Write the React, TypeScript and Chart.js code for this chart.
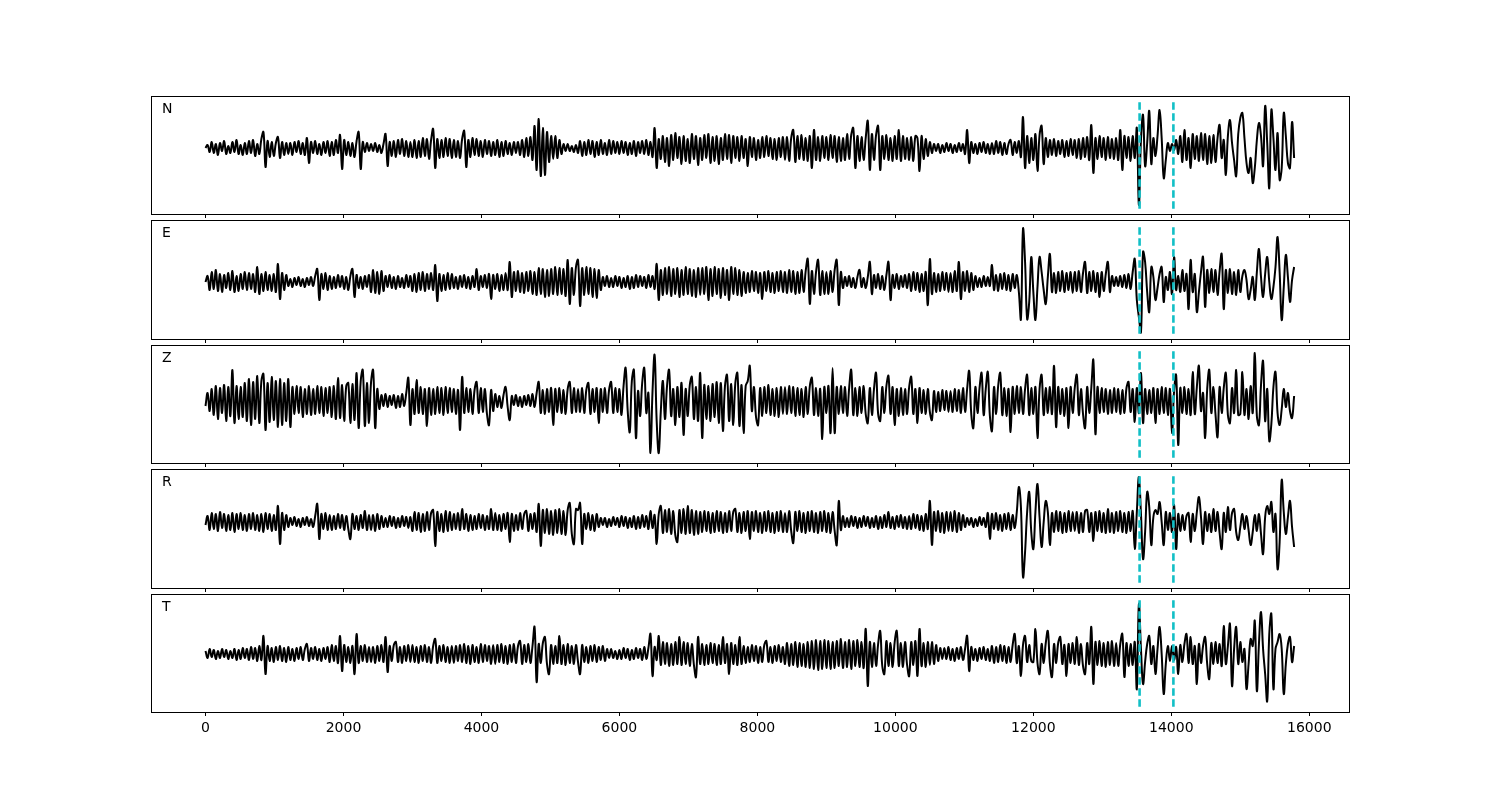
import React, { useEffect, useRef } from "react";
import { Chart, registerables } from "chart.js";

Chart.register(...registerables);

// ---------------- data ----------------
const DT = 30; // sample interval (x units)
const traceNames = ["N", "E", "Z", "R", "T"];
const pickTimes = [13540, 14030];
const xTicks = [0, 2000, 4000, 6000, 8000, 10000, 12000, 14000, 16000];
const xMin = -790;
const xMax = 16590;
const yLimits = [
  [-66, 52],
  [-57, 62],
  [-62, 56],
  [-66, 53],
  [-58, 60],
];

const traceN = [
  0, 3, -4, 6, -5, 4, -7, 5, -3, 7, -6, 2, -5, 6, -4, 8, -6, 3, -7, 5,
  -6, 7, -5, 8, -8, 4, -6, 9, 16, -19, 7, -9, 6, -8, 5, 11, -10, 6, -7, 5,
  -6, 5, -7, 6, -4, 7, -6, 5, -7, 10, -15, 6, -5, 7, -6, 4, -7, 6, -5, 7,
  -8, 6, -7, 8, -5, 13, -21, 8, -7, 6, -8, 5, -9, 7, 16, -21, 6, -4, 5, -3,
  4, -3, 5, -4, 3, -5, 4, 14, -18, 6, -8, 7, -9, 8, -6, 9, -8, 7, -9, 6,
  -9, 8, -10, 7, -9, 10, -8, 9, -11, 8, 19, -20, 9, -10, 8, -9, 10, -8, 9, -10,
  8, -9, 7, -10, 9, 17, -19, 8, -9, 10, -7, 9, -8, 7, -9, 8, -6, 7, -8, 6,
  -7, 8, -9, 6, -8, 7, -6, 5, -7, 6, -5, 6, -7, 8, -9, 10, -8, 11, -12, 22,
  -22, 29, -28, 20, -27, 16, -14, 12, -11, 12, -10, 8, -6, 4, -3, 4, -3, 2, -4, 3,
  -5, 7, -8, 6, -7, 8, -6, 7, -9, 6, -7, 8, -6, 5, -7, 8, -6, 7, -5, 6,
  -6, 7, -5, 6, -7, 5, -6, 7, -8, 6, -5, 7, -6, 8, -7, 6, -9, 20, -20, 9,
  -11, 12, -14, 10, -18, 13, -12, 15, -10, 11, -16, 12, -13, 9, -15, 14, -11, 12, -17, 10,
  -12, 13, -10, 14, -15, 11, -13, 12, -16, 10, -12, 14, -11, 13, -15, 12, -10, 11, -13, 12,
  -10, 9, -18, 11, -9, 10, -12, 8, -10, 11, -9, 12, -8, 10, -11, 9, -12, 10, -9, 11,
  -12, 11, -13, 10, 18, -14, 12, -11, 13, -12, 10, -13, 12, -20, 18, -12, 11, -13, 12, -10,
  11, -12, 13, -10, 12, -14, 11, -13, 10, -12, 14, -11, 13, 20, -20, 12, -13, 11, -12, 10,
  27, -22, 14, -12, 13, 22, -22, 12, -11, 13, -12, 10, -13, 12, -11, 18, -13, 12, -11, 10,
  -12, 11, -13, 12, 10, -23, 12, -11, 9, -8, 6, -5, 4, -3, 4, -5, 3, -4, 5, -3,
  4, -5, 3, -4, 5, -3, 4, -6, 18, -15, 6, -5, 4, -6, 5, -4, 6, -5, 4, -6,
  5, -6, 7, -5, 6, -7, 5, -6, 4, 8, -7, 6, -5, 7, -9, 31, -20, 12, -15, 10,
  -12, 14, -23, 13, 22, -16, 10, -9, 8, -7, 9, -8, 7, -6, 8, -9, 7, -8, 9, -7,
  8, -10, 9, -11, 10, -9, 11, -12, 23, -25, 10, -11, 12, -9, 10, -12, 11, -10, 9, -11,
  10, -12, 18, -22, 12, -10, 11, -13, 12, -10, 20, -57, 8, 33, -18, 5, 37, -16, 10, -8,
  12, 38, 10, -30, -12, 5, -3, 4, -2, 8, -6, 12, -14, 18, -12, 10, -20, 14, -11, 12,
  -13, 15, -12, 14, -16, 12, -15, 13, -14, 10, 23, -10, 8, -27, 12, 28, 5, -12, -28, 14,
  30, 35, 10, -15, -25, -10, -35, -20, 8, 25, 12, -18, 42, 5, -40, 38, 10, -22, 15, -32,
  -20, 35, 12, -15, -20, 26, -10,
];

const traceE = [
  0, 6, -8, 10, -7, 12, -9, 8, -10, 7, -6, 9, -8, 11, -10, 6, -9, 8, -7, 10,
  -8, 9, -7, 8, -10, 15, -12, 8, -9, 10, -8, 7, -9, 8, -10, 18, -17, 9, -8, 7,
  -4, 3, -5, 4, -3, 5, -4, 3, -5, 4, -3, 5, -4, 6, 13, -18, 8, -7, 9, -8,
  6, -7, 5, -6, 7, -5, 6, -7, 5, -8, 6, 13, -15, 7, -6, 5, -7, 6, -5, 7,
  -10, 12, -11, 10, -12, 11, -9, 6, -5, 7, -6, 5, -7, 6, -5, 4, -6, 7, -5, 6,
  -9, 8, -10, 9, -8, 10, -9, 8, -7, 9, -8, 17, -19, 8, -9, 7, -8, 9, -7, 8,
  -6, 5, -7, 6, -5, 7, -6, 5, -7, 6, -5, 13, -8, 6, -5, 7, -6, 8, -17, 7,
  -7, 8, -9, 7, -8, 9, -8, 20, -15, 10, -9, 11, -10, 9, -11, 10, -9, 11, -12, 10,
  -13, 14, -12, 13, -15, 12, -14, 13, -12, 15, -13, 14, -12, 13, -14, 22, -22, 14, -13, 15,
  22, -24, 14, -13, 15, -12, 14, -15, 13, -16, 12, -8, 5, -4, 6, -5, 4, -5, 6, -4,
  5, -6, 4, -5, 6, -7, 5, -6, 7, -5, 6, -4, 5, -6, 7, -5, 6, -7, 18, -18,
  12, -13, 14, -12, 15, -14, 13, -12, 14, -15, 12, -13, 15, -12, 13, -14, 12, -15, 14, -13,
  14, -12, 15, -18, 13, -14, 15, -12, 13, -16, 14, -13, 12, -18, 15, -12, 14, -13, 12, -14,
  10, -11, 9, -10, 11, -9, 10, -11, 9, -17, 10, -9, 11, -10, 9, -11, 10, -9, 11, -10,
  10, -11, 12, -10, 11, -12, 10, -11, 12, -10, 11, 23, -22, 11, -12, 10, 22, -13, 11, -12,
  10, -12, 11, -10, 12, 22, -23, 10, -6, 5, -4, 6, -5, 4, -6, 5, 12, -5, 4, -6,
  5, 20, -12, 7, -6, 8, -7, 6, -8, 7, 20, -18, 7, -6, 8, -7, 6, -5, 7, -6,
  8, -9, 10, -8, 9, -10, 8, -9, 10, -23, 23, -12, 9, -10, 8, -9, 10, -8, 9, -10,
  9, -10, 11, -9, 20, -17, 10, -9, 11, -10, 9, -8, 6, -5, 4, -5, 6, -4, 5, -4,
  17, -8, 7, -9, 8, -7, 9, -8, 7, -9, 8, -6, 7, -10, -37, 53, 20, -37, -20, 25,
  -10, -38, -5, 25, 10, -8, -22, 5, 28, -10, 9, -11, 10, -9, 11, -10, 9, -8, 10, -11,
  10, -9, 11, -10, 9, 20, -11, 10, -9, 11, -10, 9, -15, 10, -9, 8, 20, -10, 6, -4,
  5, -4, 6, -5, 7, -6, 8, -7, 10, 23, -18, -35, -50, 30, 20, -10, -30, 15, 5, -18,
  -6, 8, 15, -20, 5, -8, 10, -12, 25, -8, 6, -10, 12, -9, 8, -27, 22, -10, 8, -30,
  -10, 10, 25, -25, 12, -11, 13, -10, 12, -13, 11, 28, -27, 12, -11, 13, -12, 10, -13, 12,
  -10, 6, 12, 2, -17, -8, 5, -18, 10, 33, 5, -15, 8, 25, 0, -17, -5, 15, 45, 10,
  -38, -5, 27, 5, -20, 2, 15,
];

const traceZ = [
  -5, 8, -10, 12, -14, 15, -18, 13, -12, 16, -20, 14, -15, 31, -22, 15, -18, 14, -16, 18,
  -20, 22, -24, 19, -18, 25, -22, 20, 27, -29, 18, -21, 24, -19, 20, -26, 22, -24, 18, -20,
  22, -26, 14, -13, 15, -12, 14, -16, 12, -13, 15, -14, 12, -13, 15, -12, 14, -15, 13, -12,
  14, -16, 15, -18, 23, -17, 16, -20, 15, 18, -22, 17, -19, 28, -27, 20, 31, -25, 18, -22,
  19, 31, -27, 12, -8, 6, -5, 7, -6, 5, -4, 6, -7, 5, -6, 7, -5, 8, 23, -24,
  12, -13, 21, -12, 14, -13, 12, -25, 13, -14, 12, -13, 14, -12, 13, -14, 14, -12, 13, -11,
  12, -13, 11, -29, 24, -12, 13, -11, 12, -13, 11, 19, -12, 13, -11, 12, -13, -24, 11, -10,
  7, -6, 5, -7, 6, 14, -6, -19, 5, -4, 6, -5, 4, -6, 5, -4, 6, -5, 7, -6,
  8, 19, -12, 11, -13, 12, -11, 13, -24, 12, -11, 13, -12, 11, -13, 12, 19, -12, 13, -11,
  12, -11, 13, -12, 11, 18, -13, 12, -11, 13, -22, 12, -11, 13, -12, 11, 19, -12, 13, -11,
  12, -14, 15, 33, -10, -31, 20, 31, -37, 10, -15, 18, 33, -12, 8, -52, 10, 46, -20, -52,
  -10, 20, -18, 15, 31, -15, 12, -24, 14, -16, 18, -34, 12, -15, 16, 24, -18, 14, -20, 28,
  -37, 16, -18, 15, -20, 17, -16, 19, -22, 18, -30, 15, 26, -20, 17, -24, 18, 28, -25, 16,
  -32, 15, 20, 35, -10, 14, -16, -24, 13, -15, 14, -12, 16, -14, 12, -15, 13, -16, 14, -13,
  14, -13, 15, -12, 14, -15, 13, -14, 12, -16, 14, -13, 15, 23, -14, 13, -15, 12, -38, 14,
  -12, 15, -32, 33, -32, 14, -13, 15, -12, 14, -15, 13, 31, -14, 13, -15, 14, -12, 15, -13,
  -22, 13, -14, 12, 28, -13, -20, 14, -12, 15, 25, -13, 14, -24, 12, -15, 13, -14, 12, -13,
  14, 24, -13, 12, -22, 13, -12, 11, -13, 12, -11, -19, 10, -11, 9, -10, 11, -9, 10, -11,
  10, -11, 12, -10, 11, -12, 13, -11, 12, 30, -13, -27, 14, -12, 13, 28, -14, 12, 29, -15,
  -30, 14, -13, 15, 28, -14, 13, -15, 12, -31, 14, -13, 15, -12, 14, -13, 12, 26, -14, 13,
  -13, 14, -37, 12, 26, -14, 13, -12, 14, -13, 35, -26, 14, -13, 12, -15, 13, -27, 14, -12,
  13, 26, -14, 12, -13, -27, 14, -12, 13, 41, -33, 14, -12, 13, -11, 12, -13, 11, -12, 13,
  -11, 12, -13, 11, -12, 13, 19, -11, 12, -21, 13, -12, 28, -22, 12, -13, 11, -12, 13, -22,
  12, -13, 14, -12, 13, -14, 12, -32, 10, 26, -44, 13, -12, 14, -13, 12, -14, 29, -13, 14,
  35, -10, 8, -37, 12, 31, -12, 14, -13, -36, 14, -12, 13, 28, -14, -22, 13, -12, 31, -14,
  -13, 29, -14, 12, -18, 15, -12, 48, -15, -24, 16, 40, -20, 12, -40, -23, 14, 29, -12, -24,
  -8, 12, -6, 8, -10, -17, 5,
];

const traceR = [
  -3, 6, -8, 9, -7, 8, -9, 10, -6, 8, -9, 7, -8, 9, -10, 8, -7, 9, -8, 7,
  -9, 8, -7, 9, -8, 7, -9, 8, -10, 9, -7, 8, -9, 7, -8, 16, -22, 9, -8, 7,
  -5, 4, -3, 5, -4, 3, -5, 4, -3, 5, -4, 3, -5, 6, 18, -17, 8, -7, 9, -8,
  7, -8, 6, -7, 8, -6, 7, -8, 6, -7, -17, 8, -7, 6, -8, 7, -6, 11, -8, 7,
  -8, 7, -9, 8, -7, 6, -5, 4, -5, 6, -4, 5, -6, 4, -5, 6, -4, 5, -6, 5,
  -9, 10, -8, 9, -10, 8, -9, 10, -8, 9, 12, -24, 10, -9, 8, -10, 11, -9, 10, -8,
  8, -7, 9, -8, 13, -7, 8, -9, 7, -8, 6, -7, 8, -6, 7, -8, 6, -7, 13, -8,
  9, -8, 7, -9, 8, -7, 9, -20, 8, -9, 7, -8, 9, -7, 8, 11, -9, 8, -7, 9,
  -10, 18, -24, 12, -11, 13, -12, 11, -13, 12, -11, 13, -12, 11, -13, 12, 19, -12, -22, 13,
  12, 19, -22, 8, -7, 9, -8, 7, -9, 8, -5, 4, -3, 4, -5, 3, -4, 5, -3, 4,
  -5, 6, -4, 5, -6, 4, -5, 6, -7, 5, -6, 7, -5, 6, -7, 11, -6, 7, -22, 8,
  16, -11, 12, -10, 13, -12, 11, -13, -20, 12, -11, 13, -12, 16, -11, 12, -13, 11, -12, 10,
  -10, 11, -9, 10, -11, 9, -10, 11, -9, 10, -11, 9, -10, 11, -9, 10, 13, -10, 9, -11,
  10, -9, 11, -17, 10, -9, 11, -10, 9, -11, 10, -9, 11, -10, 9, -11, 10, -9, 11, -10,
  9, -10, 11, -9, -21, 10, -9, 11, -10, 9, -11, 10, -9, 11, -10, 9, -11, 10, -9, 11,
  -10, 9, -11, 10, -9, -23, 21, -8, 6, -5, 4, -5, 6, -4, 5, -6, 4, -5, 6, -4,
  5, -6, 4, -5, 6, -7, 5, -6, 7, -5, 10, -6, 5, -7, 6, -5, 7, -6, 5, -7,
  6, -7, 8, -6, 7, -8, 6, -9, 8, -7, 21, -23, 10, -9, 11, -10, 9, -11, 10, -9,
  10, -9, 11, -10, 9, -8, 7, -5, 4, -3, 4, -5, 3, -4, 5, -3, 4, -5, 9, -17,
  8, -7, 9, -8, 7, -9, 8, -7, 9, -8, 7, -6, 10, 35, 15, -55, -30, 10, 30, -10,
  -27, 10, 38, 5, -25, 0, 21, 10, -23, 9, -10, 11, -9, 10, -11, 9, -10, 11, -9, 10,
  -9, 10, -11, 9, -10, 11, 12, -10, 9, -19, 10, -9, 11, -10, 9, -11, 13, -10, 9, -11,
  10, -9, 11, -10, 9, -11, 10, -9, 11, -27, 10, 45, 8, -37, -10, 30, 15, -23, 5, 12,
  8, 20, 0, -23, 10, -8, 9, -10, 17, -27, 8, -9, 7, -8, 6, 9, -20, 8, -9, 10,
  25, 5, -22, 10, -9, 8, -10, 13, -9, 10, -11, -27, 9, -10, 15, -8, 9, 13, -10, -18,
  -5, 8, -7, 6, -8, -23, -10, 7, -9, 8, -12, -32, 5, 16, 8, 20, -10, 8, -47, -20,
  42, 10, -12, 5, 21, -5, -25,
];

const traceT = [
  3, -4, 5, -3, 4, -5, 3, -4, 5, -3, 4, -5, 3, -4, 5, -6, 4, -5, 6, -4,
  5, -6, 7, -5, 6, -7, 8, -6, 18, -20, 8, -7, 6, -8, 7, -6, 8, -7, 6, -8,
  7, -6, 5, -7, 6, -5, 7, -6, 5, 10, -7, 6, -5, 7, -6, 5, -7, 6, -5, 7,
  -8, 9, -7, 8, -9, 18, -17, 9, -8, 7, -9, 8, -20, 20, -9, 8, -7, 9, -8, 7,
  -8, 7, -9, 8, -7, 9, -8, 17, -18, 8, -7, 9, 12, -8, 7, -9, 8, -7, 9, -8,
  9, -8, 7, -9, 8, -7, 9, -8, 7, -9, 8, 15, -9, 8, -7, 9, -8, 7, -9, 8,
  -9, 8, -7, 9, -8, 10, -9, 8, -10, 9, -8, 7, -9, 10, -8, 9, -7, 8, -10, 9,
  -10, 9, -8, 10, -9, 8, -10, 9, -8, 10, -9, 8, 13, -10, 9, -8, 10, -9, 8, 27,
  -28, 10, -9, 11, 17, -10, -20, 9, -10, 8, -9, 18, -10, 9, -11, 10, -9, 8, -10, 9,
  -8, -20, 9, -8, 7, -9, 8, -7, 9, -8, 7, -6, 8, -7, 5, -4, 5, -4, 3, -5,
  4, -5, 6, -4, 5, -6, 4, -5, 6, -4, 5, -6, 7, -5, 6, 20, -22, 7, -6, 18,
  -11, 12, -10, 11, -12, 10, -11, 12, -10, 17, -11, 12, -10, 11, -12, 10, -11, -23, 17, -10,
  10, -11, 9, -10, 11, -9, 10, -11, 9, -10, 17, -9, 10, -20, 11, -10, 9, -11, 17, -10,
  8, -9, 7, -8, 9, -7, 8, -9, 7, -8, 9, 13, -8, 7, -9, 8, -7, 9, -8, 7,
  -10, 11, -12, 10, -11, 12, -13, 11, -12, 10, -13, 12, -14, 13, -15, 14, -16, 13, -15, 14,
  -14, 13, -15, 12, -14, 13, -12, 15, -14, 12, -13, 14, -15, 13, -12, 14, -13, 12, -14, 25,
  -32, 12, -13, 11, -12, 10, 23, -12, -20, 13, -12, 11, -13, 12, 23, -12, 11, -13, 12, -11,
  -22, 12, -11, 13, -22, 25, -12, 11, -13, 12, -11, 12, -10, 9, -7, 6, -5, 6, -5, 7,
  -6, 5, -7, 6, -5, 7, -6, 5, 18, -17, 7, -6, 5, -7, 6, -5, 7, -6, 5, -7,
  8, -9, 7, -8, 9, -7, 8, -9, 7, -8, 9, 20, -9, 8, -22, 9, 18, -8, 9, -7,
  -8, 25, -9, -20, 10, -9, 11, 23, -10, -23, 10, -9, 11, 17, -10, 9, -22, 10, -9, 11,
  -10, 17, -11, 10, -12, -20, 11, -10, 27, -30, 12, -11, 13, -12, 11, -13, 12, -11, 13, -12,
  11, -12, 10, 20, -23, 11, -12, 10, -11, 12, -35, 50, 5, -30, -8, 10, 18, -10, 8, -20,
  5, 27, 0, -40, -10, 8, -7, 8, -6, 7, -20, 9, -8, 10, 20, -9, 17, -10, 8, -30,
  10, -9, 8, 17, -10, -25, 11, -10, 12, -9, 10, -12, 28, -10, 8, 30, -32, 5, 27, -10,
  12, -8, 5, -35, -10, 15, 8, 33, -37, 10, 42, 5, -20, -47, 20, 40, -35, 5, 12, 20,
  5, -40, -10, 10, 17, -8, 8,
];

const traces = [traceN, traceE, traceZ, traceR, traceT];

// ---------------- layout ----------------
const FIG_W = 1500;
const FIG_H = 800;
const AX_LEFT = 151;
const AX_RIGHT = 1350;
const panelTops = [96, 220, 345, 469, 594];
const panelHeights = [118, 119, 118, 119, 118];
const PAD_TOP = 2;
const TICK_ONLY_H = 6;
const BOTTOM_AXIS_H = 40;
const FONT = '"DejaVu Sans", "Liberation Sans", sans-serif';
const PICK_COLOR = "#12bfc6";

const framePlugin = {
  id: "panelFrame",
  afterDatasetsDraw(chart: any, _args: any, opts: any) {
    const { ctx, chartArea: a } = chart;
    ctx.save();
    ctx.strokeStyle = "#000";
    ctx.lineWidth = 1;
    ctx.strokeRect(
      Math.round(a.left) + 0.5,
      Math.round(a.top) + 0.5,
      Math.round(a.right - a.left) - 1,
      Math.round(a.bottom - a.top)
    );
    ctx.fillStyle = "#000";
    ctx.font = `14px ${FONT}`;
    ctx.textBaseline = "alphabetic";
    ctx.textAlign = "left";
    ctx.fillText(opts.label || "", a.left + 11, a.top + 17);
    ctx.restore();
  },
};

function Panel({ index }: { index: number }) {
  const ref = useRef<HTMLCanvasElement | null>(null);
  const isBottom = index === traces.length - 1;
  const extra = isBottom ? BOTTOM_AXIS_H : TICK_ONLY_H;
  const canvasH = panelHeights[index] + PAD_TOP + extra;

  useEffect(() => {
    if (!ref.current) return;
    const values = traces[index];
    const [yMin, yMax] = yLimits[index];
    const inset = 0.045 * (yMax - yMin);
    const pickSets = pickTimes.map((p) => ({
      data: [
        { x: p, y: yMin + inset },
        { x: p, y: yMax - inset },
      ],
      borderColor: PICK_COLOR,
      borderWidth: 2.6,
      borderDash: [7.5, 3.5],
      pointRadius: 0,
      tension: 0,
      fill: false,
    }));
    const chart = new Chart(ref.current, {
      type: "line",
      data: {
        datasets: [
          ...pickSets,
          {
            data: values.map((v, i) => ({ x: i * DT, y: v })),
            borderColor: "#000",
            borderWidth: 2,
            pointRadius: 0,
            tension: 0.4,
            fill: false,
          },
        ],
      },
      options: {
        animation: false,
        responsive: false,
        devicePixelRatio: 1,
        events: [],
        layout: {
          padding: {
            left: AX_LEFT,
            right: FIG_W - AX_RIGHT,
            top: PAD_TOP,
            bottom: 0,
          },
        },
        plugins: {
          legend: { display: false },
          tooltip: { enabled: false },
          panelFrame: { label: traceNames[index] },
        } as any,
        scales: {
          x: {
            type: "linear",
            min: xMin,
            max: xMax,
            offset: false,
            border: { display: false },
            grid: {
              display: true,
              drawOnChartArea: false,
              drawTicks: true,
              tickLength: 4,
              tickWidth: 1,
              tickColor: "#000",
            },
            ticks: {
              display: isBottom,
              color: "#000",
              font: { family: FONT, size: 14 },
              padding: 4,
              autoSkip: false,
              maxRotation: 0,
              callback: (v: any) => String(v),
            },
            afterBuildTicks: (scale: any) => {
              scale.ticks = xTicks.map((v) => ({ value: v }));
            },
            afterFit: (scale: any) => {
              scale.height = extra;
            },
          },
          y: {
            type: "linear",
            display: false,
            min: yMin,
            max: yMax,
          },
        },
      },
      plugins: [framePlugin],
    } as any);
    return () => chart.destroy();
  }, [index]);

  return (
    <canvas
      ref={ref}
      width={FIG_W}
      height={canvasH}
      style={{
        position: "absolute",
        left: 0,
        top: panelTops[index] - PAD_TOP,
        width: FIG_W,
        height: canvasH,
      }}
    />
  );
}

export default function App() {
  return (
    <div
      style={{
        position: "absolute",
        left: 0,
        top: 0,
        width: FIG_W,
        height: FIG_H,
        background: "#fff",
        overflow: "hidden",
      }}
    >
      {traceNames.map((name, i) => (
        <Panel key={name} index={i} />
      ))}
    </div>
  );
}
